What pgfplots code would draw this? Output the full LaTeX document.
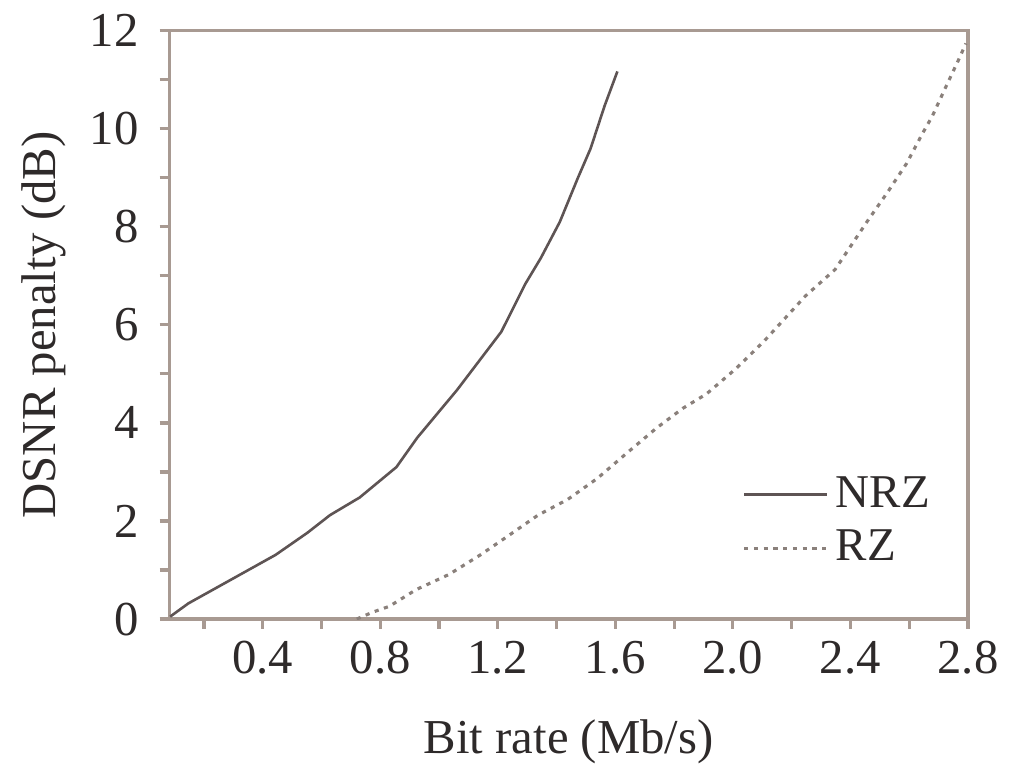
\documentclass[border=0pt]{standalone}
\usepackage{fontspec}
\setmainfont{Liberation Serif}
\usepackage{pgfplots}
\pgfplotsset{compat=1.18}
\definecolor{axline}{HTML}{A89A92}
\definecolor{nrz}{HTML}{5E5454}
\definecolor{rz}{HTML}{8A807B}
\definecolor{txt}{HTML}{2E2A2A}

\begin{document}
\begin{tikzpicture}
\begin{axis}[
    width=8.06cm, height=5.94cm,
    scale only axis,
    xmin=0.083, xmax=2.8,
    ymin=0, ymax=12,
    axis line style={draw=axline, line width=0.9pt},
    tick style={draw=axline, line width=0.9pt},
    tick align=outside,
    major tick length=0.1cm,
    minor tick length=0.1cm,
    xtick pos=left, ytick pos=left,
    xtick={0.4,0.8,1.2,1.6,2.0,2.4,2.8},
    minor xtick={0.2,0.6,1.0,1.4,1.8,2.2,2.6},
    ytick={0,2,...,12},
    minor ytick={1,3,...,11},
    xticklabel style={/pgf/number format/.cd, fixed, fixed zerofill, precision=1},
    yticklabel style={xshift=-0.09cm},
    /pgf/number format/assume math mode=true,
    ticklabel style={font=\fontsize{14}{16}\selectfont, text=txt},
    xlabel={Bit rate (Mb/s)},
    ylabel={DSNR penalty (dB)},
    xlabel shift=0.22cm,
    ylabel shift=0cm,
    label style={font=\fontsize{14}{16}\selectfont, text=txt},
    legend style={at={(0.975,0.065)}, anchor=south east, draw=none, fill=none,
        font=\fontsize{13.5}{16}\selectfont, text=txt, row sep=1pt},
    legend cell align=left,
    legend image code/.code={\draw[#1] (0cm,0cm) -- (0.84cm,0cm);},
]
\addplot[nrz, line width=0.75pt] coordinates {
(0.085,0.05) (0.147,0.32) (0.282,0.77) (0.444,1.31) (0.552,1.76) (0.629,2.12)
(0.730,2.48) (0.855,3.10) (0.926,3.70) (1.061,4.67) (1.212,5.86) (1.293,6.83)
(1.347,7.37) (1.411,8.10) (1.472,8.99) (1.516,9.60) (1.563,10.46) (1.607,11.17)
};
\addlegendentry{NRZ}
\addplot[rz, line width=0.9pt, dash pattern=on 1.2pt off 1.6pt] coordinates {
(0.720,0.00) (0.774,0.14) (0.831,0.26) (0.922,0.60) (1.034,0.91) (1.141,1.31)
(1.236,1.70) (1.337,2.12) (1.438,2.44) (1.539,2.87) (1.640,3.39) (1.741,3.90)
(1.830,4.30) (1.910,4.59) (2.011,5.11) (2.105,5.66) (2.247,6.59) (2.348,7.13)
(2.456,8.10) (2.527,8.71) (2.591,9.29) (2.645,9.90) (2.679,10.26) (2.726,10.87)
(2.770,11.43) (2.793,11.74)
};
\addlegendentry{RZ}
\end{axis}
\path ([xshift=-0.1cm]current bounding box.west) -- (current bounding box.west);
\path ([yshift=0.03cm]current bounding box.north) -- (current bounding box.north);
\end{tikzpicture}
\end{document}
